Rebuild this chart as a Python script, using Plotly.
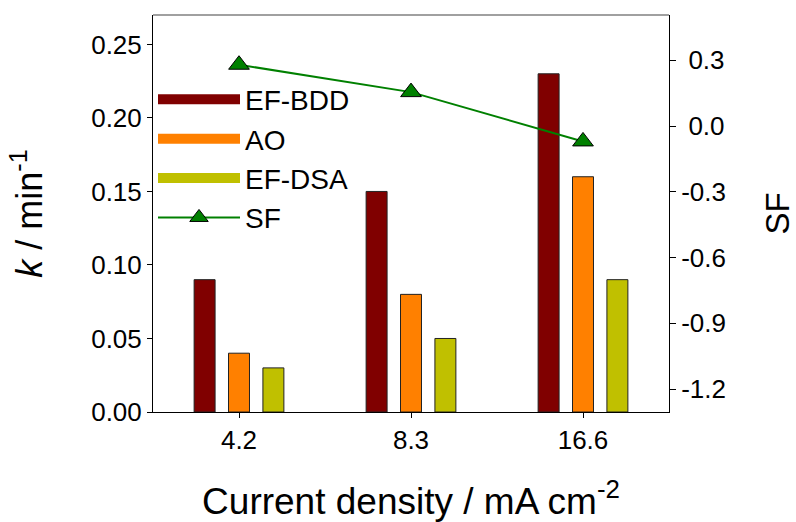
import plotly.graph_objects as go

categories = ["4.2", "8.3", "16.6"]
ef_bdd = [0.09, 0.15, 0.23]
ao = [0.04, 0.08, 0.16]
ef_dsa = [0.03, 0.05, 0.09]
sf = [0.28, 0.155, -0.07]
sf_tickvals = [-1.2, -0.9, -0.6, -0.3, 0.0, 0.3]
sf_ticktext = ["-1.2", "-0.9", "-0.6", "-0.3", "\u00a00.0", "\u00a00.3"]

colors = {"EF-BDD": "#800000", "AO": "#FF8000", "EF-DSA": "#C0C000"}
FONT = "Liberation Sans, Arial, sans-serif"

fig = go.Figure()
for name, vals in [("EF-BDD", ef_bdd), ("AO", ao), ("EF-DSA", ef_dsa)]:
    fig.add_trace(go.Bar(x=categories, y=vals, name=name, showlegend=False,
                         marker=dict(color=colors[name], line=dict(color="#222222", width=1))))
    # legend proxy
    fig.add_trace(go.Scatter(x=[None], y=[None], mode="lines", name=name,
                             line=dict(color=colors[name], width=10)))

fig.add_trace(go.Scatter(x=categories, y=sf, name="SF", yaxis="y2", mode="lines+markers",
                         line=dict(color="#008000", width=2),
                         marker=dict(symbol="triangle-up", size=18, color="#008000",
                                     line=dict(color="#000000", width=1))))

fig.update_layout(
    width=796, height=522,
    margin=dict(l=153, r=127, t=15, b=110, autoexpand=False),
    paper_bgcolor="white", plot_bgcolor="white",
    font=dict(family=FONT, color="black", size=26),
    barmode="group", bargap=0.4, bargroupgap=0.39,
    showlegend=True,
    legend=dict(x=0.0, xanchor="left", y=0.85, yanchor="top",
                font=dict(size=28, family=FONT), bgcolor="rgba(0,0,0,0)",
                itemwidth=82, tracegroupgap=0),
    xaxis=dict(type="category", range=[-0.5, 2.5], showline=True, linecolor="black", linewidth=1,
               ticks="outside", ticklen=5, tickcolor="black", showgrid=False, automargin=False,
               tickfont=dict(size=26),
               title=dict(text="Current density / mA cm<sup>-2</sup>", font=dict(size=37), standoff=34)),
    yaxis=dict(range=[0, 0.27], dtick=0.05, tick0=0, tickformat=".2f", showline=True,
               linecolor="black", linewidth=1, ticks="outside", ticklen=5, tickcolor="black",
               showgrid=False, zeroline=False, tickfont=dict(size=26), automargin=False,
               title=dict(text="<i>k</i> / min<sup>-1</sup>", font=dict(size=36), standoff=37)),
    yaxis2=dict(overlaying="y", side="right", range=[-1.305, 0.507],
                tickvals=sf_tickvals, ticktext=sf_ticktext, showline=True,
                linecolor="black", linewidth=1, ticks="outside", ticklen=6, tickcolor="black",
                showgrid=False, zeroline=False, tickfont=dict(size=26), automargin=False,
                title=dict(text="SF", font=dict(size=33), standoff=40)),
    shapes=[dict(type="line", xref="paper", yref="paper", x0=0, x1=1, y0=1, y1=1,
                 line=dict(color="#808080", width=1.5))],
)

fig.write_html("out.html")
